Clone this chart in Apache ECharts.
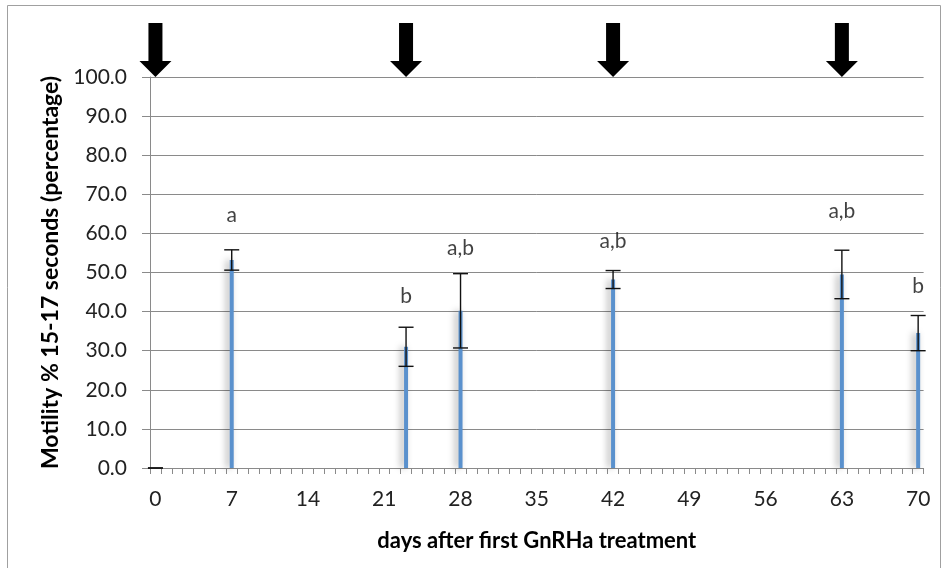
<!DOCTYPE html>
<html>
<head>
<meta charset="utf-8">
<script src="https://cdn.jsdelivr.net/npm/echarts@6/dist/echarts.min.js"></script>
<style>
html,body{margin:0;padding:0;background:#fff;}
#chart{width:946px;height:568px;}
</style>
</head>
<body>
<div id="chart"></div>
<script>
// ---- data ----
var dayCategories = [];
for (var d = 0; d <= 70; d++) { dayCategories.push(String(d)); }
var sampleDays = [0, 7, 23, 28, 42, 63, 70];
var meanValues = [0, 53.2, 31.0, 40.2, 48.2, 49.5, 34.5];
var errorValues = [0, 2.6, 5.0, 9.5, 2.3, 6.2, 4.5];
var letterDays = [7, 23, 28, 42, 63, 70];
var letterTexts = ['a', 'b', 'a,b', 'a,b', 'a,b', 'b'];
var letterLevels = [64.6, 43.9, 56.3, 58.1, 65.7, 46.5];
var arrowDays = [0, 23, 42, 63];
var yTickLabels = ['0.0','10.0','20.0','30.0','40.0','50.0','60.0','70.0','80.0','90.0','100.0'];

var FONT = 'Lato';
var barData = sampleDays.map(function (d, i) { return [d, meanValues[i]]; });
var errData = sampleDays.map(function (d, i) { return [d, meanValues[i] - errorValues[i], meanValues[i] + errorValues[i]]; });
var letterData = letterDays.map(function (d, i) { return [d, letterLevels[i], letterTexts[i]]; });
var arrowData = arrowDays.map(function (d) { return [d, 100]; });

var chart = echarts.init(document.getElementById('chart'), null, {renderer: 'canvas'});
chart.setOption({
  animation: false,
  backgroundColor: '#fff',
  textStyle: {fontFamily: FONT},
  graphic: [{
    type: 'rect', silent: true, z: -10,
    shape: {x: 7.5, y: 5.5, width: 933, height: 580},
    style: {fill: 'none', stroke: '#a0a0a0', lineWidth: 1}
  }],
  grid: {left: 150, right: 22.4, top: 77, bottom: 100, containLabel: false},
  xAxis: {
    type: 'category',
    data: dayCategories,
    boundaryGap: true,
    name: 'days after first GnRHa treatment',
    nameLocation: 'middle',
    nameGap: 62,
    nameTextStyle: {fontFamily: FONT, fontWeight: 'bold', fontSize: 22, color: '#000'},
    axisLine: {lineStyle: {color: '#8a8a8a', width: 1}},
    axisTick: {show: true, interval: 0, alignWithLabel: false, length: 6, lineStyle: {color: '#8a8a8a'}},
    axisLabel: {interval: 6, margin: 21, fontFamily: FONT, fontSize: 21, color: '#222'},
    splitLine: {show: false}
  },
  yAxis: {
    type: 'value',
    min: 0, max: 100, interval: 10,
    name: 'Motility % 15-17 seconds (percentage)',
    nameLocation: 'middle',
    nameGap: 84,
    nameRotate: 90,
    nameTextStyle: {fontFamily: FONT, fontWeight: 'bold', fontSize: 23, color: '#000'},
    axisLine: {show: true, lineStyle: {color: '#8a8a8a', width: 1}},
    axisTick: {show: true, length: 8, lineStyle: {color: '#8a8a8a'}},
    axisLabel: {margin: 23, fontFamily: FONT, fontSize: 21, color: '#222',
      formatter: function (v) { return yTickLabels[Math.round(v / 10)]; }},
    splitLine: {show: true, lineStyle: {color: '#8a8a8a', width: 1}}
  },
  series: [
    {
      type: 'bar',
      data: barData,
      barWidth: 4,
      itemStyle: {color: '#5A91CD', shadowColor: 'rgba(0,0,0,0.35)', shadowBlur: 7, shadowOffsetX: -3}
    },
    {
      type: 'custom',
      data: errData,
      z: 5,
      renderItem: function (params, api) {
        var x = api.value(0);
        var lo = api.coord([x, api.value(1)]);
        var hi = api.coord([x, api.value(2)]);
        var hw = 7.5;
        var style = {stroke: '#111', lineWidth: 1.4};
        return {
          type: 'group',
          children: [
            {type: 'line', shape: {x1: hi[0], y1: hi[1], x2: lo[0], y2: lo[1]}, style: style},
            {type: 'line', shape: {x1: hi[0] - hw, y1: hi[1], x2: hi[0] + hw, y2: hi[1]}, style: style},
            {type: 'line', shape: {x1: lo[0] - hw, y1: lo[1], x2: lo[0] + hw, y2: lo[1]}, style: style}
          ]
        };
      }
    },
    {
      type: 'scatter',
      data: letterData,
      symbolSize: 0,
      label: {show: true, position: 'inside', fontFamily: FONT, fontSize: 21, color: '#111',
        formatter: function (p) { return p.value[2]; }}
    },
    {
      type: 'scatter',
      data: arrowData,
      clip: false,
      symbol: 'path://M9,0 L23,0 L23,38 L32,38 L16,54 L0,38 L9,38 Z',
      symbolSize: [32, 54],
      symbolOffset: [0, -27],
      symbolKeepAspect: false,
      itemStyle: {color: '#000', opacity: 1}
    }
  ]
});
</script>
</body>
</html>
